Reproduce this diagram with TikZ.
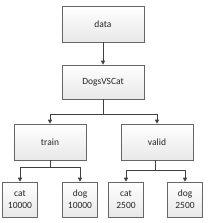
\documentclass[tikz,border=0pt]{standalone}
\usepackage{fontspec}
\setmainfont{Carlito}
\usetikzlibrary{arrows.meta,shadows}
\begin{document}
\begin{tikzpicture}[x=1pt,y=1pt,
  box/.style={draw=gray!80!black, line width=0.6pt, top color=white, bottom color=gray!18,
    inner sep=0pt, align=center, font=\fontsize{9.5}{12}\selectfont, text=black!85,
    drop shadow={shadow xshift=0.8pt, shadow yshift=-0.8pt, opacity=0.25, fill=gray}},
  bigbox/.style={box, minimum width=82pt, minimum height=36pt},
  midbox/.style={box, minimum width=72pt, minimum height=36pt},
  leafbox/.style={box, minimum width=35pt, minimum height=35pt},
  conn/.style={draw=black!75, line width=0.6pt},
  arr/.style={conn, -{Triangle[length=4pt,width=4pt]}}]
\useasboundingbox (0,0) rectangle (207,223);
\node[bigbox] (data) at (103,199) {data};
\node[bigbox, minimum height=34pt] (dvc) at (103,141) {DogsVSCat};
\node[midbox] (train) at (50,81) {train};
\node[midbox] (valid) at (157,81) {valid};
\node[leafbox] (cat1) at (20,23.5) {cat\\10000};
\node[leafbox] (dog1) at (80,23.5) {dog\\10000};
\node[leafbox] (cat2) at (126,23.5) {cat\\2500};
\node[leafbox] (dog2) at (185,23.5) {dog\\2500};
\coordinate (j0) at (103,109);
\coordinate (j1) at (50,56);
\coordinate (j2) at (155,53);
\draw[arr] (data) -- (dvc);
\draw[conn] (dvc.south) -- (j0);
\draw[arr] (j0) -| (train.north);
\draw[arr] (j0) -| (valid.north);
\draw[conn] (train.south) -- (j1);
\draw[arr] (j1) -| (cat1.north);
\draw[arr] (j1) -| (dog1.north);
\draw[conn] (valid.south -| j2) -- (j2);
\draw[arr] (j2) -| (cat2.north);
\draw[arr] (j2) -| (dog2.north);
\end{tikzpicture}
\end{document}
